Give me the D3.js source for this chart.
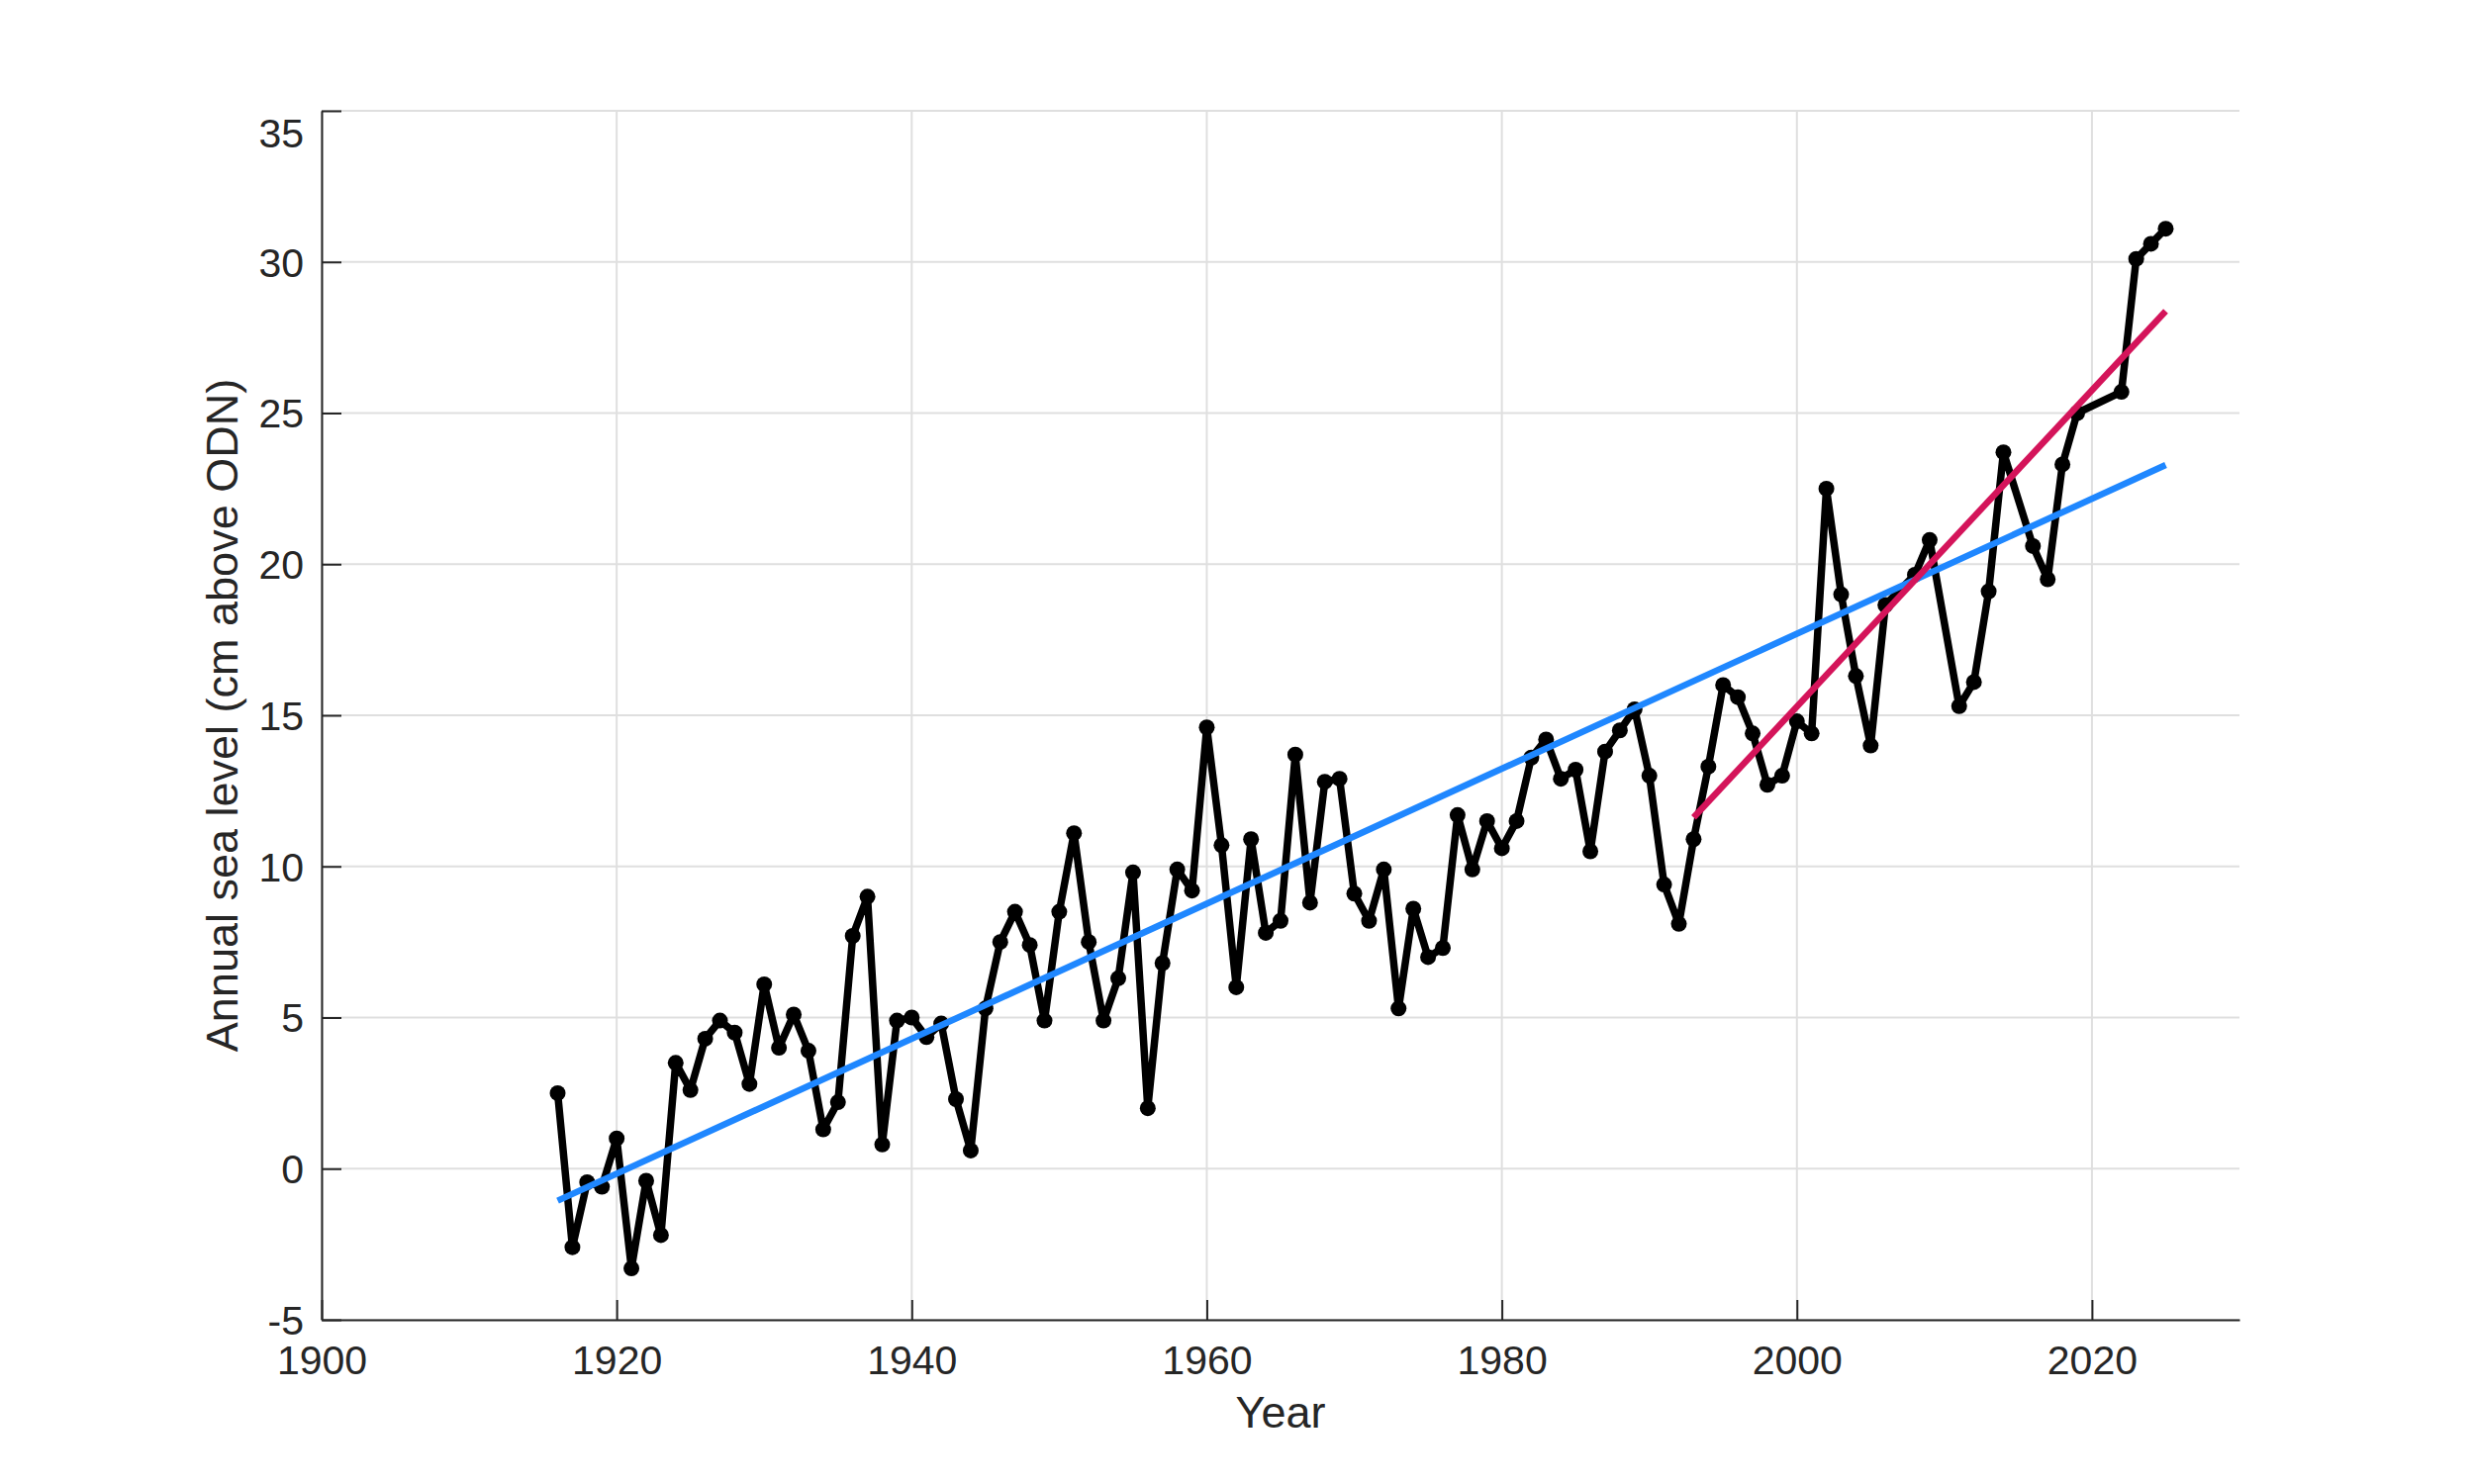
<!DOCTYPE html>
<html lang="en">
<head>
   <meta charset="UTF-8">
   <title>Annual sea level</title>
   <style>
      body {
         margin: 0;
         background: white;
      }

      text {
         font-family: "Liberation Sans", Arial, sans-serif;
         fill: #262626;
      }

      line.grid {
         stroke: #dfdfdf;
         stroke-width: 2;
      }

      path.series {
         fill: none;
         stroke: black;
         stroke-width: 7.5;
         stroke-linejoin: round;
      }

      path.trend {
         fill: none;
         stroke-width: 6.5;
      }
   </style>
   <script src="https://cdn.jsdelivr.net/npm/d3@7"></script>
</head>
<body>
   <div class="d3"></div>
   <script>
      // data
      const years = [
         1916, 1917, 1918, 1919, 1920, 1921, 1922, 1923, 1924, 1925,
         1926, 1927, 1928, 1929, 1930, 1931, 1932, 1933, 1934, 1935,
         1936, 1937, 1938, 1939, 1940, 1941, 1942, 1943, 1944, 1945,
         1946, 1947, 1948, 1949, 1950, 1951, 1952, 1953, 1954, 1955,
         1956, 1957, 1958, 1959, 1960, 1961, 1962, 1963, 1964, 1965,
         1966, 1967, 1968, 1969, 1970, 1971, 1972, 1973, 1974, 1975,
         1976, 1977, 1978, 1979, 1980, 1981, 1982, 1983, 1984, 1985,
         1986, 1987, 1988, 1989, 1990, 1991, 1992, 1993, 1994, 1995,
         1996, 1997, 1998, 1999, 2000, 2001, 2002, 2003, 2004, 2005,
         2006, 2008, 2009, 2011, 2012, 2013, 2014, 2016, 2017, 2018,
         2019, 2022, 2023, 2024, 2025
      ]
      const seaLevel = [
         2.5, -2.6, -0.45, -0.6, 1.0, -3.3, -0.4, -2.2, 3.5, 2.6,
         4.3, 4.9, 4.5, 2.8, 6.1, 4.0, 5.1, 3.9, 1.3, 2.2,
         7.7, 9.0, 0.8, 4.9, 5.0, 4.35, 4.8, 2.3, 0.6, 5.3,
         7.5, 8.5, 7.4, 4.9, 8.5, 11.1, 7.5, 4.9, 6.3, 9.8,
         2.0, 6.8, 9.9, 9.2, 14.6, 10.7, 6.0, 10.9, 7.8, 8.2,
         13.7, 8.8, 12.8, 12.9, 9.1, 8.2, 9.9, 5.3, 8.6, 7.0,
         7.3, 11.7, 9.9, 11.5, 10.6, 11.5, 13.6, 14.2, 12.9, 13.2,
         10.5, 13.8, 14.5, 15.2, 13.0, 9.4, 8.1, 10.9, 13.3, 16.0,
         15.6, 14.4, 12.7, 13.0, 14.8, 14.4, 22.5, 19.0, 16.3, 14.0,
         18.65, 19.65, 20.8, 15.3, 16.1, 19.1, 23.7, 20.6, 19.5, 23.3,
         25.0, 25.7, 30.1, 30.6, 31.1
      ]

      // linear trends (end points)
      const longTrendYears = [1916, 2025]
      const longTrendValues = [-1.06, 23.28]
      const recentTrendYears = [1993, 2025]
      const recentTrendValues = [11.62, 28.37]

      const xTicks = [1900, 1920, 1940, 1960, 1980, 2000, 2020]
      const yTicks = [-5, 0, 5, 10, 15, 20, 25, 30, 35]

      // setup
      const svg = d3.select('.d3').append('svg')
         .attr('width', 2500)
         .attr('height', 1500)

      svg.append('rect')
         .attr('width', 2500)
         .attr('height', 1500)
         .attr('fill', 'white')

      const padding = {
         top: 112,
         right: 237,
         bottom: 166,
         left: 325
      }

      const WIDTH = 2500 - padding.left - padding.right
      const HEIGHT = 1500 - padding.top - padding.bottom

      const group = svg.append('g')
         .attr('transform', `translate(${padding.left}, ${padding.top})`)

      const x = d3.scaleLinear()
         .domain([1900, 2030])
         .range([0, WIDTH])

      const y = d3.scaleLinear()
         .domain([-5, 35])
         .range([HEIGHT, 0])

      // grid
      group.selectAll('line.gx')
         .data(xTicks)
         .enter()
         .append('line')
            .attr('class', 'grid')
            .attr('x1', d => x(d))
            .attr('x2', d => x(d))
            .attr('y1', 0)
            .attr('y2', HEIGHT)

      group.selectAll('line.gy')
         .data(yTicks)
         .enter()
         .append('line')
            .attr('class', 'grid')
            .attr('x1', 0)
            .attr('x2', WIDTH)
            .attr('y1', d => y(d))
            .attr('y2', d => y(d))

      // axes
      const xAxis = group.append('g')
         .attr('transform', `translate(0, ${HEIGHT})`)
         .call(d3.axisBottom(x)
            .tickValues(xTicks)
            .tickFormat(d => String(d))
            .tickSizeInner(-20).tickSizeOuter(0).tickPadding(0))

      const yAxis = group.append('g')
         .call(d3.axisLeft(y)
            .tickValues(yTicks)
            .tickFormat(d => String(d))
            .tickSizeInner(-20).tickSizeOuter(0).tickPadding(0))

      for (const axis of [xAxis, yAxis]) {
         axis.select('.domain').attr('stroke', '#262626').attr('stroke-width', 2)
         axis.selectAll('.tick line').attr('stroke', '#262626').attr('stroke-width', 2)
         axis.selectAll('.tick text')
            .attr('font-size', 41)
            .attr('font-family', '"Liberation Sans", Arial, sans-serif')
            .attr('fill', '#262626')
      }

      xAxis.selectAll('.tick text')
         .attr('y', 55)
         .attr('dy', 0)

      yAxis.selectAll('.tick text')
         .attr('x', -18)
         .attr('dy', '0.35em')
         // top label sits inside the box, like the original
         .attr('y', d => Math.max(0, 22 - y(d)))

      // labels
      svg.append('text')
         .attr('x', padding.left + WIDTH / 2)
         .attr('y', 1443)
         .attr('text-anchor', 'middle')
         .attr('font-size', 45)
         .text('Year')

      svg.append('text')
         .attr('transform', `translate(240, ${padding.top + HEIGHT / 2}) rotate(-90)`)
         .attr('text-anchor', 'middle')
         .attr('font-size', 45)
         .text('Annual sea level (cm above ODN)')

      // series
      const points = years.map((yr, i) => [yr, seaLevel[i]])

      const line = d3.line()
         .x(d => x(d[0]))
         .y(d => y(d[1]))

      group.append('path')
         .attr('class', 'series')
         .attr('d', line(points))

      group.selectAll('circle')
         .data(points)
         .enter()
         .append('circle')
            .attr('cx', d => x(d[0]))
            .attr('cy', d => y(d[1]))
            .attr('r', 8)
            .attr('fill', 'black')

      // trends
      group.append('path')
         .attr('class', 'trend')
         .attr('stroke', '#1f87ff')
         .attr('d', line(longTrendYears.map((yr, i) => [yr, longTrendValues[i]])))

      group.append('path')
         .attr('class', 'trend')
         .attr('stroke', '#d4145a')
         .attr('d', line(recentTrendYears.map((yr, i) => [yr, recentTrendValues[i]])))
   </script>
</body>
</html>
